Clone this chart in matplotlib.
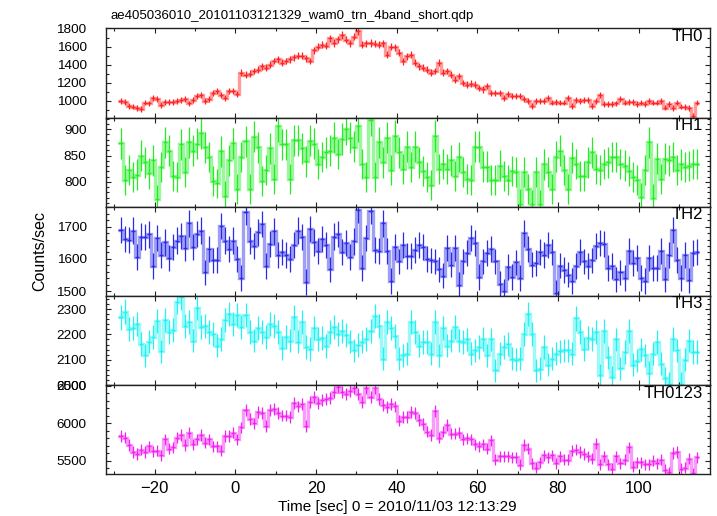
import numpy as np
import matplotlib.pyplot as plt
from matplotlib.ticker import MultipleLocator

plt.rcParams['font.family'] = ['Liberation Sans', 'DejaVu Sans']

# light curve file name and time binning
title = 'ae405036010_20101103121329_wam0_trn_4band_short.qdp'
t_start = -29.0    # left edge of first bin [sec]
bin_sec = 1.0

# count rates (counts/sec), one value per 1 s bin
th0 = [1000, 990, 945, 935, 920, 910, 980, 970, 1030, 1020,
       955, 990, 990, 985, 1000, 1005, 1020, 970, 1005, 1055,
       1065, 1000, 1020, 1090, 1110, 1065, 1030, 1110, 1105, 1080,
       1310, 1290, 1300, 1330, 1345, 1380, 1365, 1400, 1440, 1460,
       1420, 1440, 1460, 1480, 1500, 1500, 1470, 1440, 1560, 1600,
       1620, 1610, 1690, 1640, 1680, 1730, 1675, 1635, 1710, 1770,
       1620, 1635, 1640, 1630, 1620, 1635, 1510, 1600, 1590, 1530,
       1435, 1490, 1510, 1420, 1380, 1365, 1345, 1310, 1330, 1420,
       1310, 1330, 1290, 1235, 1275, 1200, 1180, 1190, 1180, 1145,
       1125, 1165, 1090, 1090, 1090, 1035, 1075, 1055, 1050, 1050,
       1020, 1000, 945, 1000, 1000, 1000, 1035, 980, 985, 980,
       980, 1035, 945, 1010, 1000, 1010, 1010, 945, 1000, 1065,
       965, 965, 965, 970, 1020, 980, 990, 990, 965, 980,
       965, 995, 980, 980, 995, 925, 965, 920, 980, 935,
       930, 920, 835, 980]

th1 = [873, 803, 822, 809, 814, 850, 837, 816, 841, 767,
       828, 875, 859, 812, 809, 871, 819, 875, 859, 872,
       892, 866, 847, 802, 797, 858, 773, 841, 873, 787,
       847, 877, 787, 886, 866, 802, 822, 864, 806, 906,
       871, 871, 806, 879, 879, 864, 839, 878, 872, 834,
       847, 856, 859, 884, 853, 881, 900, 884, 867, 906,
       834, 809, 917, 809, 875, 837, 884, 823, 887, 856,
       825, 867, 828, 867, 837, 821, 809, 794, 887, 825,
       834, 825, 841, 812, 847, 819, 806, 804, 867, 867,
       829, 829, 803, 803, 831, 812, 803, 821, 819, 759,
       819, 787, 758, 819, 758, 833, 819, 786, 848, 859,
       822, 787, 846, 834, 812, 811, 837, 856, 825, 822,
       834, 837, 847, 847, 834, 831, 821, 809, 803, 771,
       822, 875, 769, 844, 806, 844, 841, 847, 823, 833,
       828, 830, 834, 834]

th2 = [1690, 1661, 1659, 1688, 1606, 1669, 1667, 1676, 1577, 1664,
       1613, 1651, 1603, 1638, 1657, 1671, 1633, 1710, 1636, 1677,
       1688, 1558, 1630, 1595, 1597, 1702, 1657, 1630, 1657, 1600,
       1541, 1746, 1657, 1640, 1682, 1708, 1577, 1647, 1685, 1613,
       1620, 1613, 1600, 1644, 1688, 1667, 1528, 1692, 1651, 1623,
       1661, 1644, 1567, 1669, 1677, 1620, 1649, 1606, 1654, 1753,
       1572, 1664, 1749, 1628, 1623, 1710, 1623, 1531, 1638, 1592,
       1644, 1608, 1610, 1628, 1644, 1636, 1600, 1595, 1592, 1567,
       1548, 1633, 1582, 1633, 1520, 1592, 1618, 1664, 1649, 1544,
       1592, 1618, 1630, 1592, 1523, 1500, 1575, 1544, 1589, 1541,
       1679, 1630, 1582, 1587, 1620, 1613, 1644, 1620, 1495, 1579,
       1565, 1551, 1531, 1577, 1620, 1592, 1577, 1595, 1640, 1649,
       1647, 1572, 1577, 1536, 1558, 1541, 1623, 1587, 1603, 1541,
       1531, 1603, 1572, 1572, 1623, 1536, 1613, 1690, 1597, 1541,
       1613, 1534, 1618, 1620]

th3 = [2267, 2290, 2222, 2224, 2241, 2163, 2117, 2172, 2189, 2254,
       2133, 2258, 2208, 2219, 2329, 2346, 2235, 2248, 2176, 2303,
       2228, 2232, 2208, 2202, 2156, 2182, 2258, 2280, 2241, 2276,
       2228, 2276, 2208, 2176, 2224, 2208, 2189, 2241, 2235, 2208,
       2146, 2189, 2176, 2267, 2172, 2250, 2150, 2143, 2224, 2182,
       2185, 2154, 2208, 2228, 2202, 2215, 2198, 2172, 2137, 2159,
       2172, 2182, 2215, 2274, 2232, 2104, 2248, 2224, 2195, 2104,
       2117, 2124, 2248, 2208, 2156, 2169, 2169, 2124, 2250, 2117,
       2224, 2156, 2176, 2228, 2176, 2169, 2180, 2124, 2137, 2150,
       2182, 2117, 2180, 2058, 2124, 2150, 2163, 2104, 2101, 2104,
       2202, 2280, 2202, 2058, 2065, 2150, 2080, 2104, 2124, 2133,
       2137, 2137, 2124, 2263, 2208, 2143, 2185, 2182, 2211, 2039,
       2215, 2110, 2032, 2180, 2067, 2130, 2215, 2080, 2097, 2141,
       2117, 2049, 2124, 2169, 2084, 2028, 2006, 2182, 2137, 2006,
       2101, 2176, 2130, 2130]

th0123 = [5832, 5809, 5709, 5618, 5591, 5650, 5618, 5695, 5627, 5636,
          5573, 5786, 5664, 5682, 5809, 5845, 5709, 5877, 5718, 5786,
          5845, 5741, 5786, 5695, 5695, 5636, 5832, 5832, 5877, 5786,
          5945, 6182, 6059, 6000, 6150, 6136, 5968, 6182, 6195, 6136,
          6105, 6105, 6082, 6273, 6227, 6264, 5968, 6286, 6355, 6273,
          6309, 6332, 6345, 6423, 6482, 6423, 6391, 6436, 6468, 6391,
          6286, 6468, 6355, 6468, 6332, 6241, 6218, 6255, 6227, 6036,
          6082, 6082, 6150, 6136, 6045, 5991, 5891, 5845, 6164, 5809,
          5891, 5982, 5864, 5864, 5877, 5786, 5800, 5786, 5718, 5695,
          5718, 5664, 5773, 5514, 5559, 5559, 5559, 5545, 5545, 5445,
          5709, 5664, 5468, 5409, 5482, 5573, 5545, 5573, 5468, 5559,
          5514, 5514, 5636, 5650, 5618, 5591, 5559, 5527, 5727, 5455,
          5559, 5455, 5391, 5559, 5468, 5514, 5682, 5423, 5482, 5482,
          5455, 5455, 5500, 5468, 5514, 5377, 5345, 5604, 5618, 5391,
          5409, 5527, 5332, 5545]

bands = ['TH0', 'TH1', 'TH2', 'TH3', 'TH0123']
rates = [th0, th1, th2, th3, th0123]

# styles per panel
colors = ['#ff2222', '#22ee22', '#2a2ae8', '#22f2f2', '#f222f2']
ylims = [(815, 1802), (753, 922), (1485, 1762), (2000, 2352), (5319, 6512)]
major = [200, 50, 100, 100, 500]
minor = [100, 10, 20, 20, 100]

n = len(th0)
edges = t_start + bin_sec * np.arange(n + 1)
tc = 0.5 * (edges[:-1] + edges[1:])

fig, axes = plt.subplots(5, 1, sharex=True, figsize=(7.17, 5.16), dpi=100)
fig.subplots_adjust(left=106/717, right=710/717, top=1-28.3/516,
                    bottom=1-474.3/516, hspace=0)

for ax, r, lab, c, yl, mj, mn in zip(axes, rates, bands, colors, ylims, major, minor):
    y = np.array(r, dtype=float)
    err = np.sqrt(y * bin_sec) / bin_sec   # poisson errors
    # pale step connectors, then solid bin bars and error bars
    ax.stairs(y, edges, baseline=None, color=c, alpha=0.45, lw=2.4)
    ax.hlines(y, edges[:-1], edges[1:], color=c, lw=1.0)
    ax.vlines(tc, y - err, y + err, color=c, lw=0.9)
    ax.set_ylim(yl)
    ax.yaxis.set_major_locator(MultipleLocator(mj))
    ax.yaxis.set_minor_locator(MultipleLocator(mn))
    ax.xaxis.set_major_locator(MultipleLocator(20))
    ax.xaxis.set_minor_locator(MultipleLocator(10))
    ax.tick_params(which='both', direction='in', top=True, right=True,
                   width=0.8, color='#222222')
    ax.tick_params(which='major', length=3.6)
    ax.tick_params(which='minor', length=2.2)
    ax.tick_params(axis='y', labelsize=9.7, pad=14)
    ax.tick_params(axis='x', labelsize=12, pad=4.5)
    for s in ax.spines.values():
        s.set_linewidth(1.0)
        s.set_color('#222222')
    ax.text(0.988, 0.995, lab, transform=ax.transAxes, ha='right', va='top',
            fontsize=12)

axes[-1].set_xlim(-32.1, 117.7)

fig.text(110/717, 1-18.5/516, title, fontsize=9.5, va='baseline')
fig.text(40/717, 1-251.3/516, 'Counts/sec', rotation=90, ha='center',
         va='center', fontsize=11.5)
fig.text(397/717, 1-511.5/516, 'Time [sec] 0 = 2010/11/03 12:13:29',
         ha='center', va='baseline', fontsize=11)

fig.savefig('out.png', dpi=100)
